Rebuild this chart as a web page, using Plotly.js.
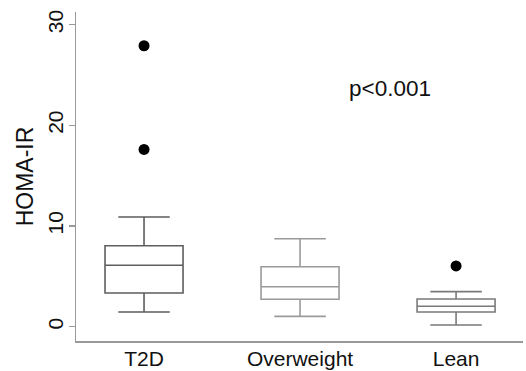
<!DOCTYPE html>
<html><head><meta charset="utf-8">
<script src="https://cdn.plot.ly/plotly-3.0.1.min.js"></script>
<style>html,body{margin:0;padding:0;background:#fff}#c{width:526px;height:371px}</style>
</head><body><div id="c"></div>
<script>
const groups = ["T2D", "Overweight", "Lean"];
const lowerWhisker = [1.46, 1.03, 0.17];
const q1 = [3.35, 2.72, 1.46];
const median = [6.1, 3.97, 2.03];
const q3 = [8.04, 5.96, 2.75];
const upperWhisker = [10.9, 8.74, 3.48];
const outlierGroups = ["T2D", "T2D", "Lean"];
const outlierValues = [27.9, 17.6, 6.03];
const boxColors = ["#5e5e5e", "#9a9a9a", "#7a7a7a"];

const traces = groups.map((g, i) => ({
  type: "box",
  x: [g],
  q1: [q1[i]], median: [median[i]], q3: [q3[i]],
  lowerfence: [lowerWhisker[i]], upperfence: [upperWhisker[i]],
  width: 0.5,
  whiskerwidth: 0.66,
  line: {color: boxColors[i], width: 1.6},
  fillcolor: "rgba(0,0,0,0)",
  hoverinfo: "skip",
  showlegend: false
}));
traces.push({
  type: "scatter", mode: "markers",
  x: outlierGroups, y: outlierValues,
  marker: {color: "#000", size: 11},
  showlegend: false, hoverinfo: "skip"
});

const layout = {
  width: 526, height: 371,
  margin: {l: 76, r: 3, t: 12, b: 30},
  paper_bgcolor: "#fff", plot_bgcolor: "#fff",
  font: {family: "Liberation Sans, Arial, sans-serif", color: "#111"},
  boxmode: "overlay",
  xaxis: {
    type: "category", categoryorder: "array", categoryarray: groups,
    range: [-0.436, 2.429],
    showline: true, linecolor: "#999", linewidth: 1.5,
    showgrid: false, zeroline: false, ticks: "",
    tickfont: {size: 21, color: "#111"}, ticklabelstandoff: -2
  },
  yaxis: {
    range: [-1.42, 31.25],
    tickvals: [0, 10, 20, 30], ticktext: ["0", "10", "20", "30"],
    tickangle: -90,
    showline: true, linecolor: "#999", linewidth: 1.5,
    ticks: "outside", ticklen: 6, tickcolor: "#999", tickwidth: 1.5,
    showgrid: false, zeroline: false,
    tickfont: {size: 21, color: "#111"},
    ticklabelstandoff: -3,
    title: {text: "HOMA-IR", font: {size: 23, color: "#111"}, standoff: 4}
  },
  annotations: [{
    x: 1.577, y: 23.7, xref: "x", yref: "y",
    text: "p<0.001", showarrow: false,
    font: {size: 22.5, color: "#111"}
  }]
};
Plotly.newPlot("c", traces, layout, {displayModeBar: false, staticPlot: true});
</script></body></html>
